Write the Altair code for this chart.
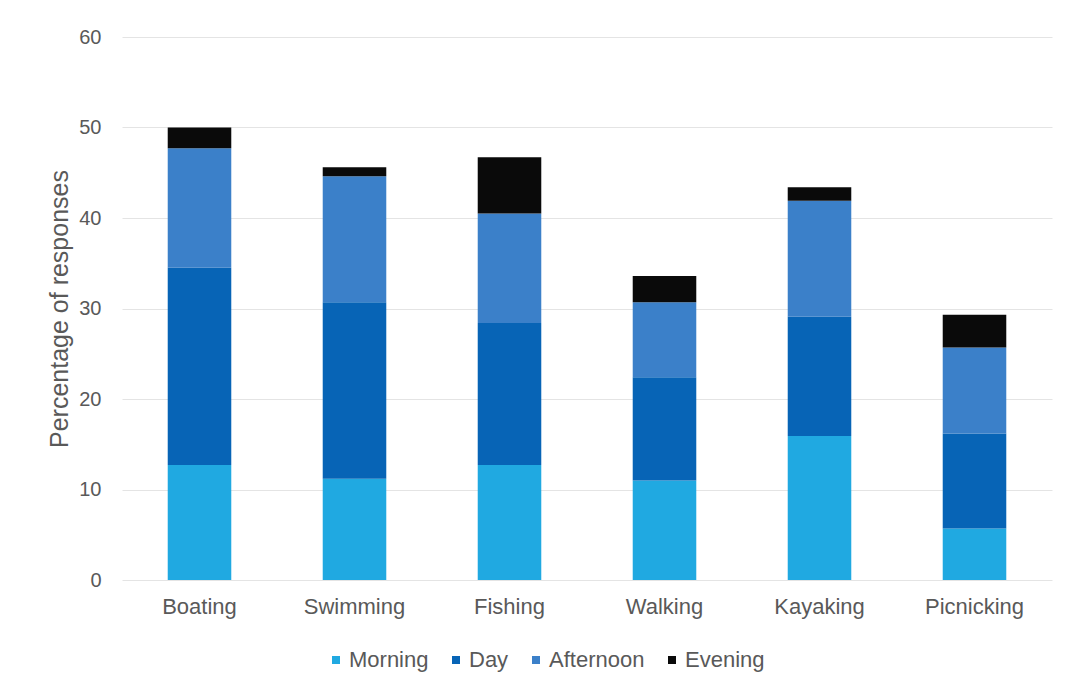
import altair as alt
import pandas as pd

activities = ["Boating", "Swimming", "Fishing", "Walking", "Kayaking", "Picnicking"]
periods = ["Morning", "Day", "Afternoon", "Evening"]
morning = [12.7, 11.2, 12.7, 11.0, 15.9, 5.7]
day = [21.8, 19.5, 15.7, 11.4, 13.2, 10.5]
afternoon = [13.2, 13.9, 12.1, 8.3, 12.8, 9.5]
evening = [2.3, 1.0, 6.2, 2.9, 1.5, 3.6]
colors = ["#20a9e1", "#0764b6", "#3b80c9", "#0a0a0a"]
y_ticks = [0, 10, 20, 30, 40, 50, 60]

series = [morning, day, afternoon, evening]
rows = []
for pi, (p, vals) in enumerate(zip(periods, series)):
    for a, v in zip(activities, vals):
        rows.append({"Activity": a, "Period": p, "Value": v, "ord": pi})
df = pd.DataFrame(rows)

font = "Liberation Sans"
grey = "#595959"

chart = alt.Chart(df).mark_bar().encode(
    x=alt.X("Activity:N", sort=activities,
            scale=alt.Scale(paddingInner=0.59, paddingOuter=0.295),
            axis=alt.Axis(title=None, labelAngle=0, domain=False, ticks=False,
                          labelPadding=16, labelFontSize=22, labelColor=grey,
                          labelFont=font, grid=False)),
    y=alt.Y("Value:Q", stack="zero",
            scale=alt.Scale(domain=[0, 60], nice=False),
            axis=alt.Axis(title="Percentage of responses", values=y_ticks,
                          domain=False, ticks=False, labelPadding=21,
                          labelFontSize=20, labelColor=grey, labelFont=font,
                          titleFontSize=25, titleColor=grey, titleFont=font,
                          titleFontWeight="normal", titlePadding=6,
                          gridColor="#e4e4e4", gridWidth=1)),
    color=alt.Color("Period:N", sort=periods,
                    scale=alt.Scale(domain=periods, range=colors),
                    legend=alt.Legend(title=None, orient="none", direction="horizontal",
                                      legendX=203, legendY=612,
                                      symbolType="square", symbolSize=64,
                                      symbolStrokeWidth=0,
                                      labelFontSize=22, labelColor=grey, labelFont=font,
                                      labelOffset=2, columnPadding=16)),
    order=alt.Order("ord:Q", sort="ascending"),
).properties(
    width=930, height=543,
    background="white",
    autosize=alt.AutoSizeParams(type="none"),
    padding={"left": 122, "top": 37, "right": 17, "bottom": 108},
).configure_view(stroke=None)

chart.save("out.html", embed_options={"renderer": "svg", "actions": False})
